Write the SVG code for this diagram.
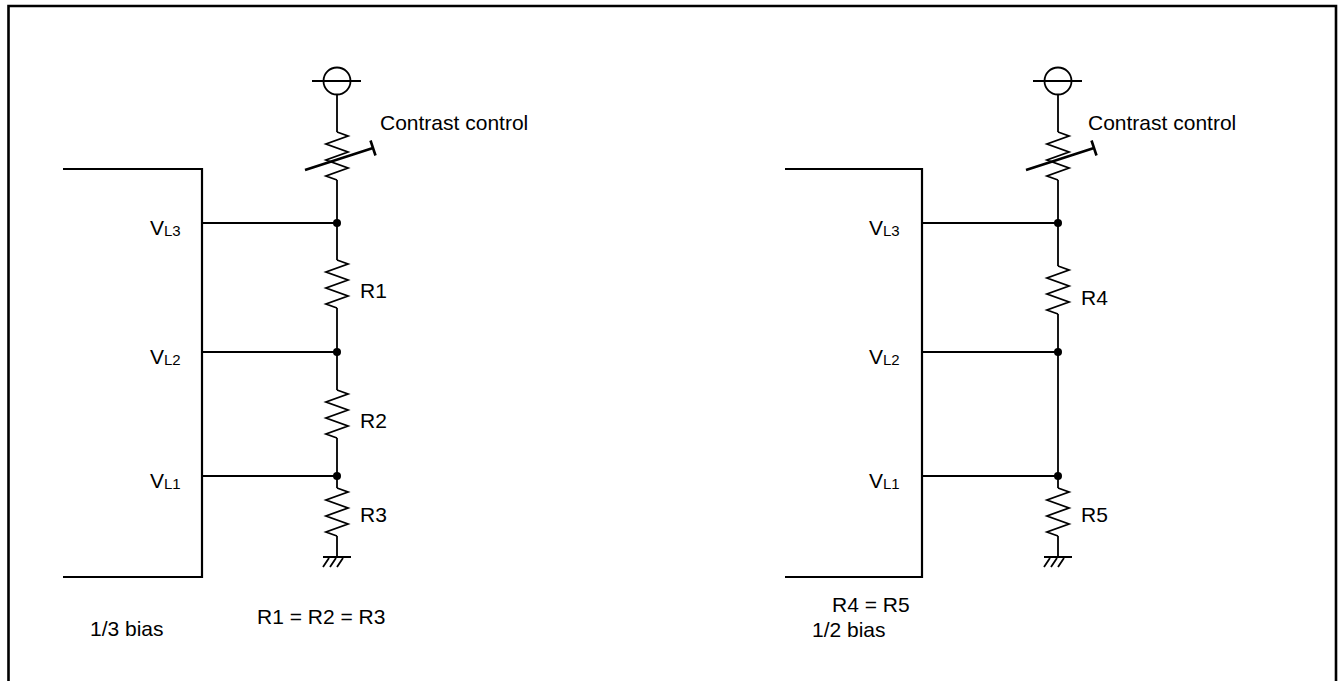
<svg xmlns="http://www.w3.org/2000/svg" width="1339" height="681" viewBox="0 0 1339 681">
<style>
.w{fill:none;stroke:#000;stroke-width:1.8;stroke-linejoin:miter}
.box{fill:none;stroke:#000;stroke-width:2.2}
.trim{fill:none;stroke:#000;stroke-width:2.6}
.dot{fill:#000}
text{font-family:"Liberation Sans",Arial,sans-serif;font-size:21px;fill:#000}
.sub{font-size:15px}
</style>
<rect width="1339" height="681" fill="#fff"/>
<path d="M8.5,690 V6 H1336 V690" fill="none" stroke="#000" stroke-width="2.6"/>

<g id="left-chip">
<path class="box" d="M63,169 H202 V577 H63"/>
<text x="150" y="235">V<tspan class="sub" dy="1">L3</tspan></text>
<text x="150" y="364">V<tspan class="sub" dy="1">L2</tspan></text>
<text x="150" y="488">V<tspan class="sub" dy="1">L1</tspan></text>
</g>

<g id="right-chip">
<path class="box" d="M785,169 H922 V577 H785"/>
<text x="869" y="235">V<tspan class="sub" dy="1">L3</tspan></text>
<text x="869" y="364">V<tspan class="sub" dy="1">L2</tspan></text>
<text x="869" y="488">V<tspan class="sub" dy="1">L1</tspan></text>
</g>

<g id="connectors">
<path class="w" d="M202,223 H337 M202,352 H337 M202,476 H337"/>
<path class="w" d="M922,223 H1058 M922,352 H1058 M922,476 H1058"/>
<path class="w" d="M337,95 V132 M337,180 V260 M337,308 V390 M337,438 V488 M337,536 V557"/>
<path class="w" d="M1058,95 V132 M1058,180 V266 M1058,314 V488 M1058,536 V557"/>
</g>

<g id="left-supply">
<circle class="w" cx="337" cy="81" r="13.5"/>
<path class="w" d="M312,81 H361"/>
</g>
<g id="right-supply">
<circle class="w" cx="1058" cy="81" r="13.5"/>
<path class="w" d="M1033,81 H1082"/>
</g>

<g id="left-contrast">
<path class="w" d="M337,132 l11,4 l-22,8 l22,8 l-22,8 l22,8 l-22,8 l11,4"/>
<path class="trim" d="M305,170 L373,148 M370.5,140.5 L375.5,155.5"/>
<text x="380" y="130">Contrast control</text>
</g>
<g id="right-contrast">
<path class="w" d="M1058,132 l11,4 l-22,8 l22,8 l-22,8 l22,8 l-22,8 l11,4"/>
<path class="trim" d="M1026,170 L1094,148 M1091.5,140.5 L1096.5,155.5"/>
<text x="1088" y="130">Contrast control</text>
</g>

<g id="R1">
<path class="w" d="M337,260 l11,4 l-22,8 l22,8 l-22,8 l22,8 l-22,8 l11,4"/>
<text x="360" y="298">R1</text>
</g>
<g id="R2">
<path class="w" d="M337,390 l11,4 l-22,8 l22,8 l-22,8 l22,8 l-22,8 l11,4"/>
<text x="360" y="428">R2</text>
</g>
<g id="R3">
<path class="w" d="M337,488 l11,4 l-22,8 l22,8 l-22,8 l22,8 l-22,8 l11,4"/>
<text x="360" y="522">R3</text>
</g>
<g id="R4">
<path class="w" d="M1058,266 l11,4 l-22,8 l22,8 l-22,8 l22,8 l-22,8 l11,4"/>
<text x="1081" y="305">R4</text>
</g>
<g id="R5">
<path class="w" d="M1058,488 l11,4 l-22,8 l22,8 l-22,8 l22,8 l-22,8 l11,4"/>
<text x="1081" y="522">R5</text>
</g>

<g id="left-ground">
<path class="w" d="M323,557 H351 M323,567 L329,558 M330,567 L336,558 M337,567 L343,558"/>
</g>
<g id="right-ground">
<path class="w" d="M1044,557 H1072 M1044,567 L1050,558 M1051,567 L1057,558 M1058,567 L1064,558"/>
</g>

<g id="junctions">
<circle class="dot" cx="337" cy="223" r="4"/>
<circle class="dot" cx="337" cy="352" r="4"/>
<circle class="dot" cx="337" cy="476" r="4"/>
<circle class="dot" cx="1058" cy="223" r="4"/>
<circle class="dot" cx="1058" cy="352" r="4"/>
<circle class="dot" cx="1058" cy="476" r="4"/>
</g>

<g id="captions">
<text x="90" y="636">1/3 bias</text>
<text x="257" y="624">R1 = R2 = R3</text>
<text x="812" y="637">1/2 bias</text>
<text x="832" y="612">R4 = R5</text>
</g>
</svg>
